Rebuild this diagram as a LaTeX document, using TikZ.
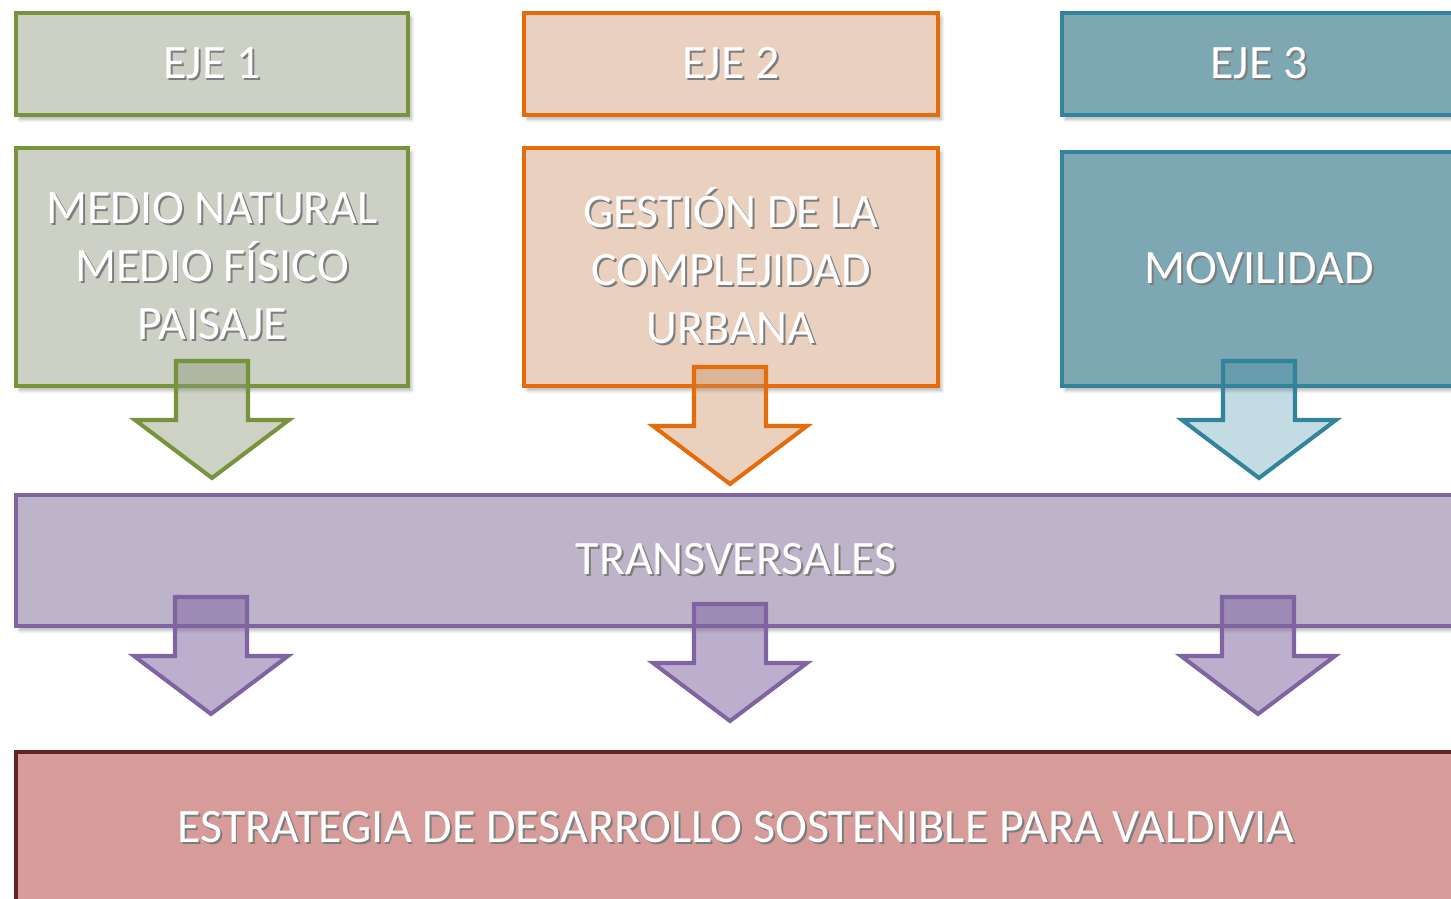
\documentclass[tikz,border=0pt]{standalone}
\usepackage{fontspec}
\setmainfont{Carlito}
\usetikzlibrary{positioning,calc,shadows.blur}
\definecolor{ejeAline}{HTML}{77933C}
\definecolor{ejeAfill}{RGB}{205,209,197}
\definecolor{ejeAarrow}{RGB}{140,150,120}
\definecolor{ejeBline}{HTML}{E46C0A}
\definecolor{ejeBfill}{RGB}{234,209,191}
\definecolor{ejeBarrow}{RGB}{200,140,90}
\definecolor{ejeCline}{HTML}{31849B}
\definecolor{ejeCfill}{RGB}{126,167,180}
\definecolor{ejeCarrow}{HTML}{31849B}
\definecolor{transline}{HTML}{8064A2}
\definecolor{transfill}{RGB}{189,180,202}
\definecolor{transarrow}{HTML}{8064A2}
\definecolor{metaline}{HTML}{632523}
\definecolor{metafill}{RGB}{215,155,154}
\definecolor{sombracol}{RGB}{125,125,125}
\def\sombra#1{\makebox[0pt][l]{\hspace{1.1pt}\raisebox{-1.1pt}{\textcolor{sombracol}{#1}}}#1}
\begin{document}
\begin{tikzpicture}[x=0.02cm,y=-0.02cm]
    \tikzset{
        caja/.style={rectangle, draw=#1line, fill=#1fill, line width=2.3pt, inner sep=0pt,
            text=white, align=center, font=\fontsize{27.3}{33}\selectfont,
            blur shadow={shadow xshift=2pt, shadow yshift=-2.5pt, shadow opacity=30, shadow blur steps=6}},
        flecha/.pic={
            \path[draw=#1line, fill=#1arrow, line width=2.3pt, miter limit=4]
                (-36,0) -- (36,0) -- (36,59) -- (77,59) -- (0,117) -- (-77,59) -- (-36,59) -- cycle;
        },
    }
    \useasboundingbox (0,0) rectangle (1451,899);
    % ejes
    \node[caja=ejeA, minimum width=7.84cm, minimum height=2.04cm] (eje1) at (212,64) {\sombra{EJE 1}};
    \node[caja=ejeB, minimum width=8.28cm, minimum height=2.04cm] (eje2) at (731,64) {\sombra{EJE 2}};
    \node[caja=ejeC, minimum width=7.88cm, minimum height=2.04cm] (eje3) at (1259,64) {\sombra{EJE 3}};
    \node[caja=ejeA, minimum width=7.84cm, minimum height=4.76cm, below=0.58cm of eje1] (med1)
        {\sombra{MEDIO NATURAL}\\\sombra{MEDIO FÍSICO}\\\sombra{PAISAJE}};
    \node[caja=ejeB, minimum width=8.28cm, minimum height=4.76cm, below=0.58cm of eje2] (med2)
        {\sombra{GESTIÓN DE LA}\\\sombra{COMPLEJIDAD}\\\sombra{URBANA}};
    \node[caja=ejeC, minimum width=7.88cm, minimum height=4.68cm, below=0.66cm of eje3] (med3)
        {\sombra{MOVILIDAD}};
    \node[caja=trans, minimum width=28.8cm, minimum height=2.62cm] (trans) at (736,560.5) {\sombra{TRANSVERSALES}};
    \node[caja=meta, minimum width=28.8cm, minimum height=3.04cm] (meta) at (736,828)
        {\sombra{ESTRATEGIA DE DESARROLLO SOSTENIBLE PARA VALDIVIA}};
    % flechas
    \pic[fill opacity=.43] at ($(med1.south)+(0,-27)$) {flecha=ejeA};
    \pic[fill opacity=.4] at ($(med2.south)+(-1,-21)$) {flecha=ejeB};
    \pic[fill opacity=.29] at ($(med3.south)+(0,-27)$) {flecha=ejeC};
    \pic[fill opacity=.52] at ($(med1.south |- trans.south)+(-1,-31)$) {flecha=trans};
    \pic[fill opacity=.52] at ($(med2.south |- trans.south)+(-1,-24)$) {flecha=trans};
    \pic[fill opacity=.52] at ($(med3.south |- trans.south)+(-1,-31)$) {flecha=trans};
\end{tikzpicture}
\end{document}
